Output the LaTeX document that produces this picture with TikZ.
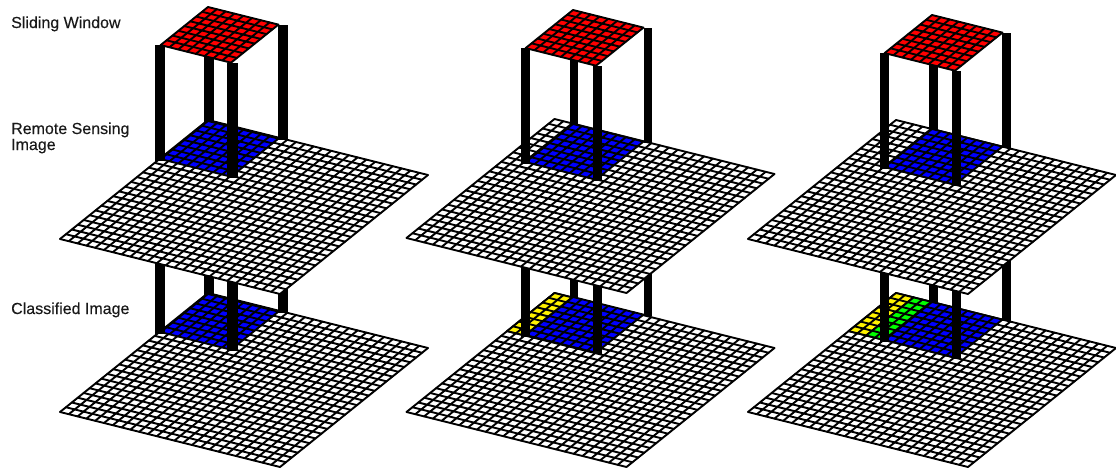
\documentclass[tikz,border=0pt]{standalone}
\usepackage{fontspec}
\setmainfont{Liberation Sans}
\newfontfamily\lblfont[FakeBold=0.25]{Liberation Sans}
\tikzset{
  lbl/.style={anchor=base west,inner sep=0pt,font=\lblfont\fontsize{16}{16}\selectfont,text=black!90},
  gridline/.style={draw=black,line width=1.9pt,line cap=round},
  pillar/.style={fill=black}
}
% \Patch{col}{row}{ncols}{nrows}{fill} in the current skewed scope
\newcommand\Patch[5]{%
  \fill[#5] (#1,#2) -- ++(#3,0) -- ++(0,#4) -- ++(-#3,0) -- cycle;
  \pgfmathtruncatemacro\pcend{#1+#3}\pgfmathtruncatemacro\prend{#2+#4}%
  \foreach \k in {#1,...,\pcend}{\draw[gridline] (\k,#2) -- (\k,\prend);}
  \foreach \k in {#2,...,\prend}{\draw[gridline] (#1,\k) -- (\pcend,\k);}
}
% skew scope at a given origin
\tikzset{skew/.style={shift={#1},x={(8.8pt,-2.2pt)},y={(-5.92pt,-4.76pt)}}}
% \Pil{x}{ytop}{ybot}{width}
\newcommand\Pil[4]{\fill[pillar] ({#1-#4/2},#2) rectangle ({#1+#4/2},#3);}
% \Panel{gridTopX}{upperY}{lowerY}{winX}{winY}{col}{width}{lower extras}
\newcommand\Panel[8]{%
  \pgfmathsetmacro\Tx{#4}\pgfmathsetmacro\Ty{#5}%
  \pgfmathsetmacro\Lx{\Tx-47.4-0.4}\pgfmathsetmacro\Ly{\Ty+38.1}%
  \pgfmathsetmacro\Rx{\Tx+70.4+4.5}\pgfmathsetmacro\Ry{\Ty+17.6}%
  \pgfmathsetmacro\Bx{\Tx+23+1.7}\pgfmathsetmacro\By{\Ty+55.7}%
  \pgfmathsetmacro\Bk{\Tx+1}%
  \pgfmathsetmacro\TyL{\Ty+173}\pgfmathsetmacro\TyR{\Ty-114}%
  \pgfmathsetmacro\LyB{\Ly+175}\pgfmathsetmacro\RyB{\Ry+174}\pgfmathsetmacro\ByB{\By+174}%
  \pgfmathsetmacro\LyT{\Ly-114}\pgfmathsetmacro\RyT{\Ry-114}\pgfmathsetmacro\ByT{\By-114}%
  \begin{scope}[skew={(#1,#3)}]\Patch{0}{0}{25}{25}{white}#8\end{scope}
  \Pil{\Bk}{\Ty+60}{\TyL+1}{#7}
  \begin{scope}[skew={(\Tx,\TyL)}]\Patch{0}{0}{8}{8}{blue}\end{scope}
  \Pil{\Lx}{\Ly}{\LyB}{#7}\Pil{\Rx}{\Ry}{\RyB}{#7}\Pil{\Bx}{\By}{\ByB}{#7}
  \begin{scope}[skew={(#1,#2)}]\Patch{0}{0}{25}{25}{white}\end{scope}
  \Pil{\Bk}{\TyR+20}{\Ty+1}{#7}
  \begin{scope}[skew={(\Tx,\Ty)}]\Patch{0}{0}{8}{8}{blue}\end{scope}
  \Pil{\Lx}{\LyT}{\Ly+2}{#7}\Pil{\Rx}{\RyT}{\Ry+1}{#7}\Pil{\Bx}{\ByT}{\By+1}{#7}
  \begin{scope}[skew={(\Tx,\TyR)}]\Patch{0}{0}{8}{8}{red}\end{scope}
}
\begin{document}
\begin{tikzpicture}[x=1pt,y=-1pt]
\useasboundingbox (0,0) rectangle (1116,469);
\Panel{208}{120}{293}{208}{121}{0}{10.5}{}
\Panel{554.5}{119}{293}{573}{124}{2}{8.8}{\Patch{0}{0}{2}{8}{yellow}}
\Panel{896}{120}{293}{932}{129}{4}{9}{\Patch{0}{0}{2}{8}{yellow}\Patch{2}{0}{2}{8}{green}}
\node[lbl] (sw) at (11,28) {Sliding Window};
\node[lbl] (rs) at (11,134) {Remote Sensing};
\node[lbl] (im) at (11,150) {Image};
\node[lbl] (ci) at (11,314) {Classified Image};
\end{tikzpicture}
\end{document}
